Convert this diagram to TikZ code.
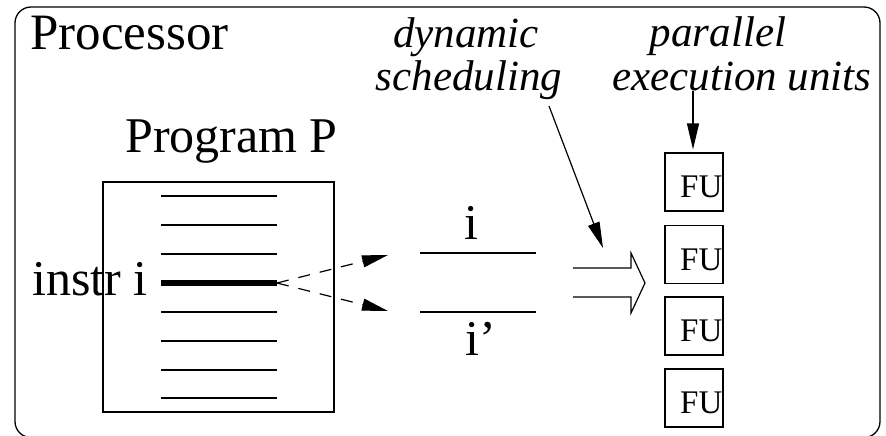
\documentclass[tikz,border=0pt]{standalone}
\usepackage{fontspec}
\setmainfont{Liberation Serif}
\usetikzlibrary{arrows.meta,calc}
\begin{document}
\begin{tikzpicture}[x=1pt,y=-1pt,
  ln/.style={line width=1.2pt},
  big/.style={inner sep=0pt, font=\fontsize{50}{50}\selectfont},
  ital/.style={inner sep=0pt, font=\fontsize{43}{43}\selectfont\itshape},
  futxt/.style={inner sep=0pt, font=\fontsize{33}{33}\selectfont},
  fubox/.style={draw, line width=1.2pt, minimum width=58pt, minimum height=58pt, inner sep=0pt},
  tri/.style={-{Triangle[length=26pt,width=12pt]}},
  dsh/.style={dash pattern=on 12pt off 10pt}
]
\useasboundingbox (0,0) rectangle (886,436);
% outer processor frame
\draw[line width=1.3pt, rounded corners=16pt] (15,7) rectangle (880,437.5);

% texts
\node[inner sep=0pt, font=\fontsize{51}{51}\selectfont, anchor=base west] (proc) at (30,50) {Processor};
\node[ital, anchor=base] (dyn) at (466,48) {dynamic};
\node[ital, anchor=base] (sched) at (469,91) {scheduling};
\node[ital, anchor=base] (par) at (718,47) {parallel};
\node[ital, anchor=base] (exec) at (742,91) {execution units};
\node[big, anchor=base west] (progP) at (125,152) {Program P};

% program box
\node[draw, line width=1.2pt, minimum width=231pt, minimum height=230pt, inner sep=0pt] (prog) at (218.5,297) {};
\foreach \yy in {196,225,254,312,341,370,398}
  \draw[ln] (161,\yy) -- (277,\yy);
\coordinate (istart) at (161,283);
\coordinate (iend) at (277,283);
\draw[line width=5.4pt] (istart) -- (iend);
\node[big, anchor=base west] (instr) at (32,295) {instr i};

% i and i'
\node[big, anchor=base] (ilab) at (471,239) {i};
\node[big, anchor=base west] (iplab) at (465,355) {i'};
\coordinate (ia) at (420,253);
\coordinate (ib) at (536,253);
\coordinate (ipa) at (420,312);
\coordinate (ipb) at (536,312);
\draw[ln] (ia) -- (ib);
\draw[ln] (ipa) -- (ipb);

% dashed arrows
\coordinate (tA) at (388,255);
\coordinate (tB) at (388,311);
\draw[ln, dsh, tri] (iend) -- (tA);
\draw[ln, dsh, tri] (iend) -- (tB);

% hollow double arrow
\coordinate (dA) at (573,268);
\coordinate (dB) at (573,297);
\draw[ln, line join=miter] (dA) -- (631,268) -- (631,253) -- (645,283) -- (631,313) -- (631,297) -- (dB);

% FU boxes
\node[fubox] (fu1) at (694,182) {};
\node[fubox] (fu2) at (694,254.5) {};
\node[fubox] (fu3) at (694,326) {};
\node[fubox] (fu4) at (694,398) {};
\foreach \n in {1,2,3,4}
  \node[futxt, anchor=base east] (fut\n) at ($(fu\n.south east)+(-1,-14)$) {FU};

% annotation arrows
\coordinate (sfrom) at (549,106);
\coordinate (sto) at (603,248);
\draw[ln, tri] (sfrom) -- (sto);
\coordinate (pfrom) at (693,91);
\draw[ln, tri] (pfrom) -- ($(fu1.north)+(-1,-3)$);
\end{tikzpicture}
\end{document}
